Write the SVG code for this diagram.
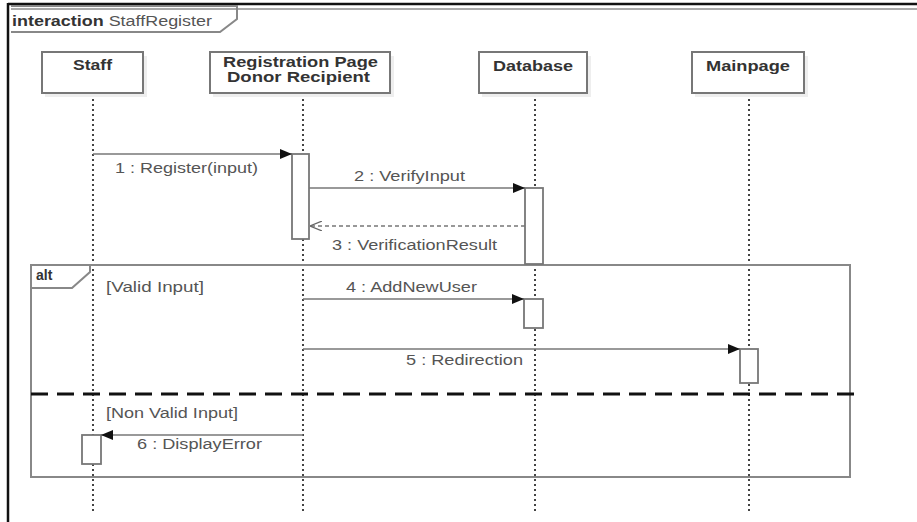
<svg xmlns="http://www.w3.org/2000/svg" width="917" height="522" viewBox="0 0 917 522">
  <defs>
    <marker id="filled" viewBox="0 0 12 10" refX="12" refY="5" markerWidth="12" markerHeight="10" markerUnits="userSpaceOnUse" orient="auto">
      <path d="M0,0 L12,5 L0,10 Z" fill="#111"/>
    </marker>
    <marker id="open" viewBox="0 0 12 10" refX="12" refY="5" markerWidth="12" markerHeight="10" markerUnits="userSpaceOnUse" orient="auto">
      <path d="M0,0 L12,5 L0,10" fill="none" stroke="#666" stroke-width="1.2"/>
    </marker>
  </defs>
  <style>
    .lbl { font-family: "Liberation Sans", Arial, sans-serif; font-size: 14px; fill: #555; }
    .head { font-family: "Liberation Sans", Arial, sans-serif; font-size: 14px; font-weight: bold; fill: #333; }
    .box { fill: #fff; stroke: #777; stroke-width: 2; }
    .shadow { fill: #eee; }
    .life { stroke: #444; stroke-width: 2; stroke-dasharray: 2 3; fill: none; }
    .act { fill: #fff; stroke: #777; stroke-width: 1.8; }
    .msg { stroke: #777; stroke-width: 1.6; fill: none; }
    .ret { stroke: #777; stroke-width: 1.6; stroke-dasharray: 4 3; fill: none; }
    .frame { fill: none; stroke: #888; stroke-width: 2; }
  </style>

  <rect width="917" height="522" fill="#fff"/>

  <!-- outer interaction frame -->
  <g id="interaction-frame">
    <line x1="8" y1="4" x2="917" y2="4" stroke="#111" stroke-width="2.5"/>
    <line x1="8" y1="3" x2="8" y2="522" stroke="#111" stroke-width="2.5"/>
    <line x1="11" y1="9" x2="917" y2="9" stroke="#aaa" stroke-width="2"/>
    <path d="M11,6 L237,6 L237,19 L220,32 L11,32" class="frame"/>
    <text x="12" y="26" class="lbl" textLength="200" lengthAdjust="spacingAndGlyphs"><tspan font-weight="bold" fill="#333">interaction</tspan> StaffRegister</text>
  </g>

  <!-- lifelines -->
  <g id="lifelines">
    <line x1="93" y1="94" x2="93" y2="511" class="life"/>
    <line x1="303" y1="94" x2="303" y2="511" class="life"/>
    <line x1="535" y1="94" x2="535" y2="511" class="life"/>
    <line x1="749" y1="94" x2="749" y2="511" class="life"/>
  </g>

  <!-- participants -->
  <g id="staff">
    <rect x="45" y="56" width="102" height="41" class="shadow"/>
    <rect x="42" y="52" width="101" height="41" class="box"/>
    <text x="73" y="70" class="head" textLength="39" lengthAdjust="spacingAndGlyphs">Staff</text>
  </g>
  <g id="registration-page">
    <rect x="213" y="56" width="181" height="41" class="shadow"/>
    <rect x="210" y="52" width="180" height="41" class="box"/>
    <text x="223" y="67" class="head" font-size="12" textLength="155" lengthAdjust="spacingAndGlyphs">Registration Page</text>
    <text x="227" y="82" class="head" font-size="12" textLength="143" lengthAdjust="spacingAndGlyphs">Donor Recipient</text>
  </g>
  <g id="database">
    <rect x="482" y="56" width="109" height="41" class="shadow"/>
    <rect x="479" y="52" width="108" height="41" class="box"/>
    <text x="493" y="71" class="head" textLength="80" lengthAdjust="spacingAndGlyphs">Database</text>
  </g>
  <g id="mainpage">
    <rect x="695" y="56" width="113" height="41" class="shadow"/>
    <rect x="692" y="52" width="112" height="41" class="box"/>
    <text x="706" y="71" class="head" textLength="84" lengthAdjust="spacingAndGlyphs">Mainpage</text>
  </g>

  <!-- alt combined fragment -->
  <g id="alt-fragment">
    <rect x="31" y="265" width="819" height="212" class="frame"/>
    <path d="M31,265 L90,265 L90,272 L72,288 L31,288" class="frame"/>
    <text x="36" y="280" class="head" font-size="13" fill="#333">alt</text>
    <text x="106" y="292" class="lbl" textLength="98" lengthAdjust="spacingAndGlyphs">[Valid Input]</text>
    <line x1="31" y1="394" x2="858" y2="394" stroke="#111" stroke-width="3" stroke-dasharray="17 9"/>
    <text x="106" y="418" class="lbl" textLength="132" lengthAdjust="spacingAndGlyphs">[Non Valid Input]</text>
  </g>

  <!-- activation bars -->
  <g id="activations">
    <rect x="292" y="154" width="17" height="85" class="act"/>
    <rect x="525" y="188" width="18" height="76" class="act"/>
    <rect x="524" y="299" width="19" height="29" class="act"/>
    <rect x="740" y="349" width="18" height="34" class="act"/>
    <rect x="82" y="435" width="19" height="29" class="act"/>
  </g>

  <!-- messages -->
  <g id="connectors">
    <line x1="93" y1="154" x2="292" y2="154" class="msg" marker-end="url(#filled)"/>
    <text x="115" y="173" class="lbl" textLength="143" lengthAdjust="spacingAndGlyphs">1 : Register(input)</text>

    <line x1="309" y1="188" x2="525" y2="188" class="msg" marker-end="url(#filled)"/>
    <text x="354" y="181" class="lbl" textLength="111" lengthAdjust="spacingAndGlyphs">2 : VerifyInput</text>

    <line x1="525" y1="226" x2="310" y2="226" class="ret" marker-end="url(#open)"/>
    <text x="332" y="250" class="lbl" textLength="165" lengthAdjust="spacingAndGlyphs">3 : VerificationResult</text>

    <line x1="303" y1="299" x2="524" y2="299" class="msg" marker-end="url(#filled)"/>
    <text x="346" y="292" class="lbl" textLength="131" lengthAdjust="spacingAndGlyphs">4 : AddNewUser</text>

    <line x1="303" y1="349" x2="740" y2="349" class="msg" marker-end="url(#filled)"/>
    <text x="406" y="365" class="lbl" textLength="117" lengthAdjust="spacingAndGlyphs">5 : Redirection</text>

    <line x1="303" y1="435" x2="101" y2="435" class="msg" marker-end="url(#filled)"/>
    <text x="137" y="449" class="lbl" textLength="125" lengthAdjust="spacingAndGlyphs">6 : DisplayError</text>
  </g>
</svg>
